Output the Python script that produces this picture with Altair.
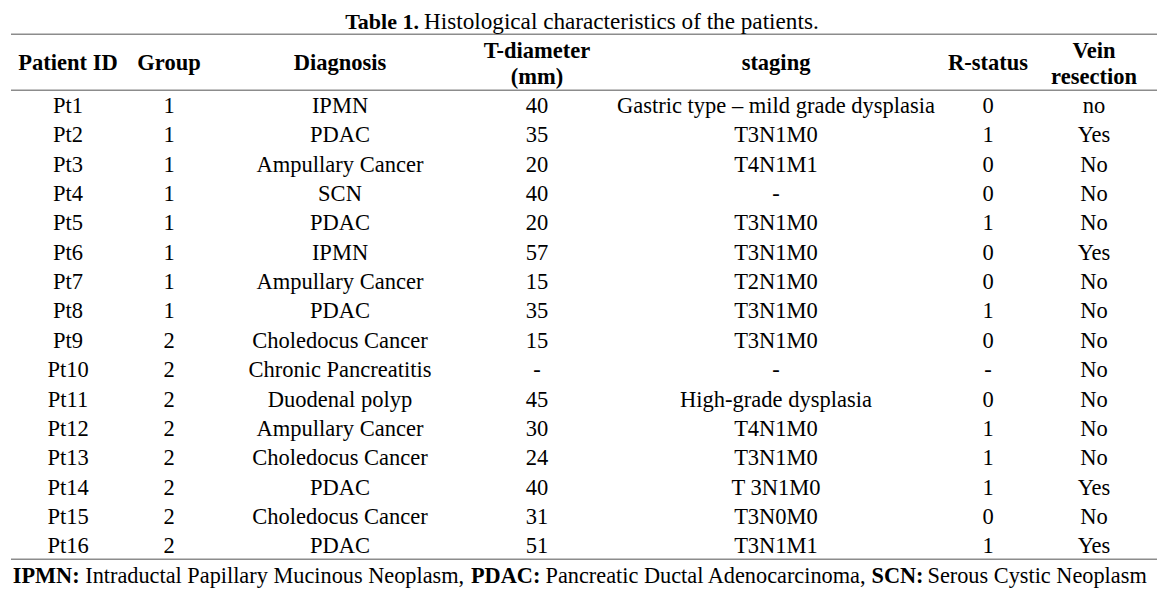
import altair as alt
import pandas as pd

# ---------------- data ----------------
patient_ids = ["Pt1", "Pt2", "Pt3", "Pt4", "Pt5", "Pt6", "Pt7", "Pt8",
               "Pt9", "Pt10", "Pt11", "Pt12", "Pt13", "Pt14", "Pt15", "Pt16"]
groups = ["1", "1", "1", "1", "1", "1", "1", "1",
          "2", "2", "2", "2", "2", "2", "2", "2"]
diagnosis = ["IPMN", "PDAC", "Ampullary Cancer", "SCN", "PDAC", "IPMN",
             "Ampullary Cancer", "PDAC", "Choledocus Cancer", "Chronic Pancreatitis",
             "Duodenal polyp", "Ampullary Cancer", "Choledocus Cancer", "PDAC",
             "Choledocus Cancer", "PDAC"]
t_diameter = ["40", "35", "20", "40", "20", "57", "15", "35",
              "15", "-", "45", "30", "24", "40", "31", "51"]
staging = ["Gastric type \u2013 mild grade dysplasia", "T3N1M0", "T4N1M1", "-",
           "T3N1M0", "T3N1M0", "T2N1M0", "T3N1M0", "T3N1M0", "-",
           "High-grade dysplasia", "T4N1M0", "T3N1M0", "T 3N1M0", "T3N0M0", "T3N1M1"]
r_status = ["0", "1", "0", "0", "1", "0", "0", "1",
            "0", "-", "0", "1", "1", "1", "0", "1"]
vein_resection = ["no", "Yes", "No", "No", "No", "Yes", "No", "No",
                  "No", "No", "No", "No", "No", "Yes", "No", "Yes"]

headers = [["Patient ID"], ["Group"], ["Diagnosis"], ["T-diameter", "(mm)"],
           ["staging"], ["R-status"], ["Vein", "resection"]]

title_bold = "Table 1."
title_text = "Histological characteristics of the patients."

footer_bold = ["IPMN:", "PDAC:", "SCN:"]
footer_text = ["Intraductal Papillary Mucinous Neoplasm,",
               "Pancreatic Ductal Adenocarcinoma,",
               "Serous Cystic Neoplasm"]

columns = [patient_ids, groups, diagnosis, t_diameter, staging, r_status, vein_resection]

# ---------------- layout ----------------
W, H = 1156, 580
FONT = "Liberation Serif"
COL_X = [60, 161, 332, 529, 768, 980, 1086]      # column centres (px in plot)
ROW0 = 98.0                                       # centre of first data row
ROW_H = 29.35


def r(page_y):
    """page y (px) -> row units"""
    return (page_y - 8 - ROW0) / ROW_H


y_scale = alt.Scale(domain=[-ROW0 / ROW_H, (H - ROW0) / ROW_H], reverse=True, nice=False, zero=False)
x_scale = alt.Scale(domain=[0, W], nice=False, zero=False)
X = alt.X("x:Q", scale=x_scale, axis=None)
Y = alt.Y("row:Q", scale=y_scale, axis=None)

# body cells
body = pd.DataFrame([
    {"x": COL_X[c], "row": i, "text": col[i]}
    for c, col in enumerate(columns) for i in range(len(col))
])

# header cells
hdr_rows = []
for c, lines in enumerate(headers):
    if len(lines) == 1:
        hdr_rows.append({"x": COL_X[c], "row": r(63.3), "text": lines[0]})
    else:
        hdr_rows.append({"x": COL_X[c], "row": r(50.5), "text": lines[0]})
        hdr_rows.append({"x": COL_X[c], "row": r(76.5), "text": lines[1]})
hdr = pd.DataFrame(hdr_rows)

rules = pd.DataFrame({"row": [r(34.3), r(90.3), r(559.3)]})

title_b = pd.DataFrame({"x": [411], "row": [r(21.5)], "text": [title_bold]})
title_n = pd.DataFrame({"x": [416], "row": [r(21.5)], "text": [title_text]})

FOOT_B_X = [4.7, 463.0, 863.5]
FOOT_N_X = [77.2, 537.5, 919.5]
foot_b = pd.DataFrame({"x": FOOT_B_X, "row": [r(575.5)] * 3, "text": footer_bold})
foot_n = pd.DataFrame({"x": FOOT_N_X, "row": [r(575.5)] * 3, "text": footer_text})

body_layer = alt.Chart(body).mark_text(
    font=FONT, fontSize=22.5, color="#000000", align="center", baseline="middle"
).encode(x=X, y=Y, text="text:N")

hdr_layer = alt.Chart(hdr).mark_text(
    font=FONT, fontSize=22.5, fontWeight="bold", color="#000000", align="center", baseline="middle"
).encode(x=X, y=Y, text="text:N")

rule_layer = alt.Chart(rules).mark_rule(color="#8c8c8c", strokeWidth=1.5).encode(
    x=alt.value(3), x2=alt.value(1149), y=Y
)

title_b_layer = alt.Chart(title_b).mark_text(
    font=FONT, fontSize=22, fontWeight="bold", color="#000000", align="right", baseline="middle"
).encode(x=X, y=Y, text="text:N")
title_n_layer = alt.Chart(title_n).mark_text(
    font=FONT, fontSize=23.2, color="#000000", align="left", baseline="middle"
).encode(x=X, y=Y, text="text:N")

foot_b_layer = alt.Chart(foot_b).mark_text(
    font=FONT, fontSize=22.3, fontWeight="bold", color="#000000", align="left", baseline="middle"
).encode(x=X, y=Y, text="text:N")
foot_n_layer = alt.Chart(foot_n).mark_text(
    font=FONT, fontSize=22.3, color="#000000", align="left", baseline="middle"
).encode(x=X, y=Y, text="text:N")

chart = alt.layer(
    rule_layer, title_b_layer, title_n_layer, hdr_layer, body_layer, foot_b_layer, foot_n_layer
).properties(
    width=W, height=H, padding=0, autosize=alt.AutoSizeParams(type="none"),
    background="#ffffff"
).configure_view(stroke=None)

chart.save("out.html", embed_options={"renderer": "svg", "actions": False})
